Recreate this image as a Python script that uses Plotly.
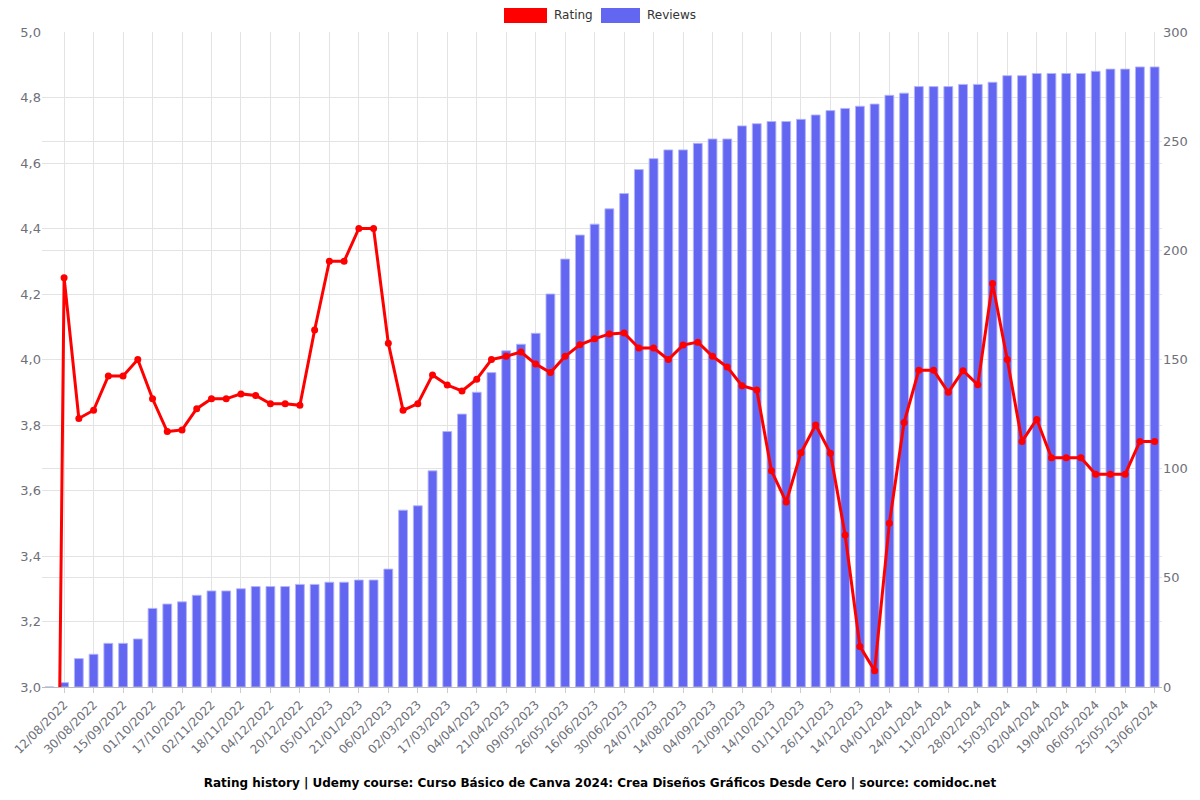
import plotly.graph_objects as go

# Tick labels shown on every second category (odd indices 1, 3, ..., 75)
tick_labels = [
    "12/08/2022", "30/08/2022", "15/09/2022", "01/10/2022", "17/10/2022",
    "02/11/2022", "18/11/2022", "04/12/2022", "20/12/2022", "05/01/2023",
    "21/01/2023", "06/02/2023", "02/03/2023", "17/03/2023", "04/04/2023",
    "21/04/2023", "09/05/2023", "26/05/2023", "16/06/2023", "30/06/2023",
    "24/07/2023", "14/08/2023", "04/09/2023", "21/09/2023", "14/10/2023",
    "01/11/2023", "26/11/2023", "14/12/2023", "04/01/2024", "24/01/2024",
    "11/02/2024", "28/02/2024", "15/03/2024", "02/04/2024", "19/04/2024",
    "06/05/2024", "25/05/2024", "13/06/2024",
]

rating = [
    0.0, 4.25, 3.82, 3.845, 3.95, 3.95, 4.0, 3.88, 3.78, 3.785,
    3.85, 3.88, 3.88, 3.895, 3.89, 3.865, 3.865, 3.86, 4.09, 4.30,
    4.30, 4.40, 4.40, 4.05, 3.845, 3.865, 3.953, 3.922, 3.904, 3.94,
    4.00, 4.01, 4.023, 3.986, 3.96, 4.01, 4.045, 4.063, 4.078, 4.081,
    4.035, 4.035, 4.00, 4.044, 4.053, 4.01, 3.977, 3.92, 3.907, 3.66,
    3.565, 3.715, 3.80, 3.714, 3.464, 3.124, 3.05, 3.50, 3.808, 3.967,
    3.967, 3.90, 3.966, 3.923, 4.232, 4.00, 3.75, 3.817, 3.70, 3.70,
    3.70, 3.65, 3.65, 3.65, 3.75, 3.75,
]

reviews = [
    0, 2, 13, 15, 20, 20, 22, 36, 38, 39,
    42, 44, 44, 45, 46, 46, 46, 47, 47, 48,
    48, 49, 49, 54, 81, 83, 99, 117, 125, 135,
    144, 154, 157, 162, 180, 196, 207, 212, 219, 226,
    237, 242, 246, 246, 249, 251, 251, 257, 258, 259,
    259, 260, 262, 264, 265, 266, 267, 271, 272, 275,
    275, 275, 276, 276, 277, 280, 280, 281, 281, 281,
    281, 282, 283, 283, 284, 284,
]

x = list(range(len(reviews)))
tickvals = x[1::2]

RED = "#ff0000"
BLUE = "#6366f1"
GRID = "#e3e3e3"
LABEL = "#6e7079"
FONT = "DejaVu Sans"

fig = go.Figure()
fig.add_trace(go.Bar(
    x=x, y=reviews, name="Reviews", yaxis="y",
    marker=dict(color=BLUE, line=dict(color="rgba(180,182,250,0.9)", width=1)),
    width=0.6, showlegend=False,
))
fig.add_trace(go.Scatter(
    x=x, y=rating, name="Rating", yaxis="y2", mode="lines+markers",
    line=dict(color=RED, width=3), marker=dict(color=RED, size=7),
    showlegend=False,
))

fig.update_layout(
    width=1200, height=800,
    margin=dict(l=42, r=38, t=32, b=113),
    paper_bgcolor="white", plot_bgcolor="white",
    separators=", ",
    font=dict(family=FONT, size=12, color=LABEL),
    bargap=0.4,
    xaxis=dict(
        range=[-0.5, len(x) - 0.5], tickmode="array", tickvals=tickvals,
        ticktext=tick_labels, tickangle=-45, showgrid=True, gridcolor=GRID,
        gridwidth=1, ticks="outside", ticklen=5, tickcolor="#cccccc",
        showline=True, linecolor="#bbbbbb", linewidth=1, zeroline=False,
        tickfont=dict(size=12, color=LABEL, family=FONT),
    ),
    yaxis=dict(
        side="right", range=[0, 300], tickvals=[0, 50, 100, 150, 200, 250, 300],
        showgrid=True, gridcolor=GRID, zeroline=False, showline=False,
        tickfont=dict(size=13, color=LABEL, family=FONT), ticks="",
    ),
    yaxis2=dict(
        side="left", overlaying="y", range=[3, 5], dtick=0.2, tickformat=".1f",
        showgrid=True, gridcolor=GRID, zeroline=False, showline=False,
        tickfont=dict(size=13, color=LABEL, family=FONT), ticks="",
    ),
    title=dict(
        text="<b>Rating history | Udemy course: Curso Básico de Canva 2024: Crea Diseños Gráficos Desde Cero | source: comidoc.net</b>",
        x=0.5, xanchor="center", y=1 - 783 / 800, yanchor="middle",
        font=dict(family=FONT, size=12, color="#000000"),
    ),
)

# Legend drawn as in the reference (coloured rectangles + labels at the top)
legend_items = [("Rating", RED, 504, 547), ("Reviews", BLUE, 601, 640)]
for label, color, x0, x1 in legend_items:
    fig.add_shape(type="rect", xref="paper", yref="paper",
                  x0=(x0 - 42) / 1120, x1=(x1 - 42) / 1120,
                  y0=(687 - 23) / 655, y1=(687 - 8) / 655,
                  fillcolor=color, line=dict(width=0))
    fig.add_annotation(text=label, xref="paper", yref="paper",
                       x=(x1 + 5 - 42) / 1120, y=(687 - 15.5) / 655,
                       xanchor="left", yanchor="middle", showarrow=False,
                       font=dict(family=FONT, size=12, color="#333333"))

fig.write_html("out.html")
